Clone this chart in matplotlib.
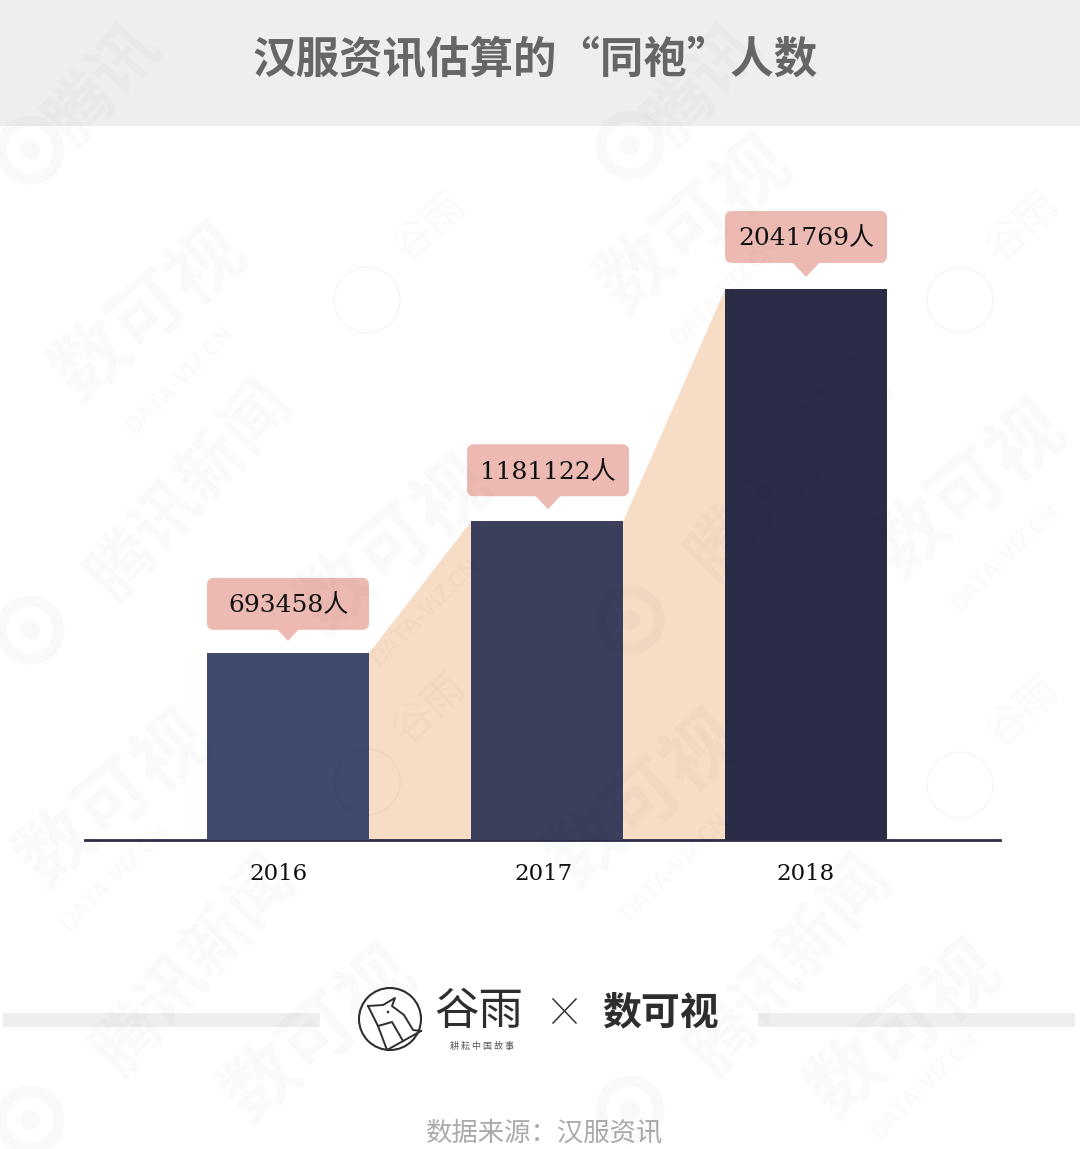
import matplotlib
matplotlib.use("Agg")

import matplotlib.pyplot as plt
from matplotlib.patches import Circle, FancyBboxPatch, Polygon, Rectangle
from matplotlib.transforms import ScaledTranslation

WIDTH = 1080
HEIGHT = 1149

years = ["2016", "2017", "2018"]
people = [693458, 1181122, 2041769]
value_labels = ["693458人", "1181122人", "2041769人"]

bar_colors = ["#3e4b6c", "#3c3f5b", "#2b2d47"]
bar_widths = [0.625, 0.587, 0.625]

CJK = "Noto Sans CJK SC"
LABEL_FONT = ["DejaVu Serif", CJK]
PEACH = "#f7dcc6"
CALLOUT = "#ecbab2"
INK = "#2b2d47"

# watermark spots, pixel positions
brand_spots = [(150, 313), (695, 225), (115, 800), (395, 545), (970, 490), (645, 800), (905, 1030), (320, 1035)]
tencent_spots = [(190, 490), (790, 470), (195, 965), (790, 965)]
tencent_short_spots = [(105, 85), (705, 85)]
ring_spots = [(30, 150), (630, 145), (30, 630), (630, 620), (30, 1120), (630, 1110)]
bird_spots = [(367, 300), (960, 300), (367, 782), (960, 785)]
site_spots = [(180, 380), (725, 292), (115, 877), (425, 612), (1005, 557), (675, 867), (925, 1085)]


def pixel_axes(fig, zorder):
    ax = fig.add_axes([0, 0, 1, 1], zorder=zorder)
    ax.set_xlim(0, WIDTH)
    ax.set_ylim(HEIGHT, 0)
    ax.axis("off")
    ax.patch.set_alpha(0)
    return ax


def draw_background(ax):
    ax.add_patch(Rectangle((0, 0), WIDTH, 126, color="#eeeeee", lw=0))
    ax.add_patch(Rectangle((3, 1013), 317, 14, color="#eeeeee", lw=0))
    ax.add_patch(Rectangle((758, 1013), 317, 14, color="#eeeeee", lw=0))


def draw_chart(ax):
    x = list(range(len(years)))
    ax.bar(x, people, width=bar_widths, color=bar_colors, zorder=3)

    # peach ramps between neighbouring bars
    for i in x[:-1]:
        start = i + bar_widths[i] / 2
        end = i + 1 - bar_widths[i + 1] / 2
        ax.fill_between(
            [start, end],
            [people[i], people[i + 1]],
            0,
            facecolor=PEACH,
            edgecolor=PEACH,
            lw=0.6,
            zorder=2,
        )

    ax.set_xlim((85 - 288) / 259, (1000 - 288) / 259)
    ax.set_ylim(0, people[-1] * 640 / 551)
    ax.patch.set_alpha(0)
    for side in ["top", "right", "left"]:
        ax.spines[side].set_visible(False)
    ax.spines["bottom"].set_color(INK)
    ax.spines["bottom"].set_linewidth(2)
    ax.set_yticks([])
    ax.set_xticks(x)
    ax.set_xticklabels(years, family=LABEL_FONT, fontsize=16.5, color="#111111")
    ax.tick_params(axis="x", length=0, pad=16.5)
    # the year labels do not sit quite centred under the first two bars
    for label, shift in zip(ax.get_xticklabels(), [-9, -4, 0]):
        label.set_transform(
            label.get_transform() + ScaledTranslation(shift / 100, 0, ax.figure.dpi_scale_trans)
        )


def draw_callouts(overlay, ax):
    x_left = [207, 467, 725]
    box_lift = [-1, 1, 2]
    for i, text in enumerate(value_labels):
        _, y_disp = ax.transData.transform((i, people[i]))
        tip = HEIGHT - y_disp - 12
        left = x_left[i]
        centre = left + 81
        box_y = tip - 58 - box_lift[i]
        overlay.add_patch(
            FancyBboxPatch(
                (left + 6, box_y),
                150,
                40,
                boxstyle="round,pad=0,rounding_size=0",
                lw=8.6,
                ec=CALLOUT,
                fc=CALLOUT,
                joinstyle="round",
                zorder=3,
            )
        )
        overlay.add_patch(
            Polygon(
                [(centre - 15, tip - 16), (centre + 15, tip - 16), (centre, tip)],
                color=CALLOUT,
                lw=0,
                zorder=3,
            )
        )
        overlay.text(
            centre,
            box_y + 22,
            text,
            family=LABEL_FONT,
            fontsize=18,
            color="#111111",
            ha="center",
            va="center",
            zorder=4,
        )


def draw_logos(ax):
    dark = "#2e2e2e"
    # bird badge
    ax.add_patch(Circle((390, 1019), 31, fill=False, ec=dark, lw=1.5))
    ax.plot(
        [368, 383, 395, 392, 404, 413, 421],
        [1006, 1005, 998, 1006, 1015, 1030, 1031],
        color=dark,
        lw=1.4,
    )
    ax.plot([368, 378, 387, 421], [1006, 1026, 1050, 1031], color=dark, lw=1.4)
    ax.plot([378, 392, 403], [1026, 1022, 1041], color=dark, lw=1.4)
    ax.add_patch(Circle((388, 1012), 1.3, color=dark, lw=0))

    ax.text(479, 1011, "谷雨", family=CJK, fontsize=32, color=dark, ha="center", va="center")
    ax.text(482, 1046, "耕 耘 中 国 故 事", family=CJK, fontsize=6.5, color="#555555", ha="center", va="center")
    ax.plot([553, 576], [999, 1023], color="#333333", lw=1.1)
    ax.plot([576, 553], [999, 1023], color="#333333", lw=1.1)
    ax.text(660, 1013, "数可视", family=CJK, weight="black", fontsize=28, color=dark, ha="center", va="center")


def draw_watermarks(ax):
    shade = {"color": "black", "alpha": 0.025, "ha": "center", "va": "center", "zorder": 6}
    for x, y in brand_spots:
        ax.text(x, y, "数可视", family=CJK, weight="black", fontsize=54, rotation=40, **shade)
    for x, y in tencent_spots:
        ax.text(x, y, "腾讯新闻", family=CJK, weight="black", fontsize=48, rotation=48, **shade)
    for x, y in tencent_short_spots:
        ax.text(x, y, "腾讯", family=CJK, weight="black", fontsize=48, rotation=48, **shade)
    for x, y in site_spots:
        ax.text(x, y, "DATA-VIZ.CN", family="Lato", weight="bold", fontsize=16, rotation=45, **shade)
    for x, y in ring_spots:
        ax.add_patch(Circle((x, y), 29, fill=False, ec="black", lw=8, alpha=0.025, zorder=6))
        ax.add_patch(Circle((x, y), 10, color="black", lw=0, alpha=0.025, zorder=6))
    for x, y in bird_spots:
        ax.add_patch(Circle((x, y), 33, fill=False, ec="black", lw=1.2, alpha=0.03, zorder=6))
        ax.text(x + 63, y - 73, "谷雨", family=CJK, fontsize=30, rotation=42, **shade)


def main():
    fig = plt.figure(figsize=(WIDTH / 100, HEIGHT / 100), dpi=100, facecolor="white")

    back = pixel_axes(fig, 0)
    draw_background(back)

    chart = fig.add_axes(
        [85 / WIDTH, (HEIGHT - 840) / HEIGHT, 915 / WIDTH, 640 / HEIGHT],
        zorder=1,
    )
    draw_chart(chart)

    front = pixel_axes(fig, 2)
    draw_callouts(front, chart)
    draw_logos(front)
    draw_watermarks(front)

    front.text(
        535,
        60,
        "汉服资讯估算的“同袍”人数",
        family=CJK,
        weight="bold",
        fontsize=31.3,
        color="#666666",
        ha="center",
        va="center",
    )
    front.text(545, 1134, "数据来源：汉服资讯", family=CJK, fontsize=19, color="#aaaaaa", ha="center", va="center")

    fig.savefig("out.png", dpi=100)
    plt.close(fig)


if __name__ == "__main__":
    main()
